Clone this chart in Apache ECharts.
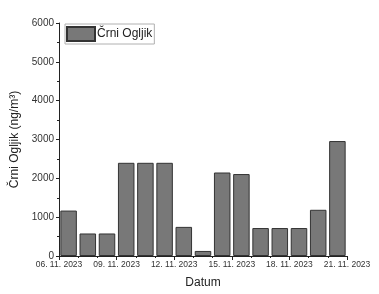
<!DOCTYPE html>
<html>
<head>
<meta charset="utf-8">
<script src="https://cdn.jsdelivr.net/npm/echarts@6/dist/echarts.min.js"></script>
<style>html,body{margin:0;padding:0;background:#fff}#c{width:379px;height:294px}</style>
</head>
<body>
<div id="c"></div>
<script>
const categories = ['06. 11.','07. 11.','08. 11.','09. 11.','10. 11.','11. 11.','12. 11.','13. 11.','14. 11.','15. 11.','16. 11.','17. 11.','18. 11.','19. 11.','20. 11.'];
const values = [1170, 580, 580, 2400, 2400, 2400, 750, 130, 2150, 2110, 720, 720, 720, 1190, 2960];
const xTickLabels = ['06. 11. 2023','09. 11. 2023','12. 11. 2023','15. 11. 2023','18. 11. 2023','21. 11. 2023'];
const seriesName = 'Črni Ogljik';

const font = 'Liberation Sans, Arial, sans-serif';
const chart = echarts.init(document.getElementById('c'), null, {renderer:'canvas'});
chart.setOption({
  animation:false,
  backgroundColor:'#fff',
  grid:{left:59,right:32,top:23,bottom:36},
  legend:{
    left:65, top:24, padding:[2,2,2,1], borderColor:'#b0b0b0', borderWidth:1,
    itemWidth:28, itemHeight:14,
    textStyle:{fontFamily:font,fontSize:12,color:'#222',padding:[0,0,0,-3]},
    data:[{name:seriesName,icon:'rect'}]
  },
  xAxis:[
    {type:'category', data:categories, show:false, boundaryGap:true},
    {type:'value', min:0, max:15, interval:3, position:'bottom',
     name:'Datum', nameLocation:'middle', nameGap:21,
     nameTextStyle:{fontFamily:font,fontSize:12,color:'#222'},
     axisLine:{show:true,lineStyle:{color:'#222',width:1}},
     axisTick:{show:true,inside:false,length:4,lineStyle:{color:'#222'}},
     minorTick:{show:true,splitNumber:3,length:2,lineStyle:{color:'#222'}},
     splitLine:{show:false},
     axisLabel:{fontFamily:font,fontSize:8.5,color:'#333',margin:4,
       formatter:v=>xTickLabels[Math.round(v/3)]||''}
    }
  ],
  yAxis:{type:'value',min:0,max:6000,interval:1000,
    name:'Črni Ogljik (ng/m³)', nameLocation:'middle', nameGap:33,
    nameTextStyle:{fontFamily:font,fontSize:12,color:'#222'},
    axisLine:{show:true,lineStyle:{color:'#222',width:1}},
    axisTick:{show:true,inside:false,length:3,lineStyle:{color:'#222'}},
    minorTick:{show:true,splitNumber:2,length:2,lineStyle:{color:'#222'}},
    splitLine:{show:false},
    axisLabel:{fontFamily:font,fontSize:10,color:'#333',margin:5,formatter:v=>String(v)}
  },
  series:[{
    name:seriesName, type:'bar', xAxisIndex:0, data:values,
    barCategoryGap:'14%',
    itemStyle:{color:'#787878',borderColor:'#333333',borderWidth:1}
  }]
});
</script>
</body>
</html>
